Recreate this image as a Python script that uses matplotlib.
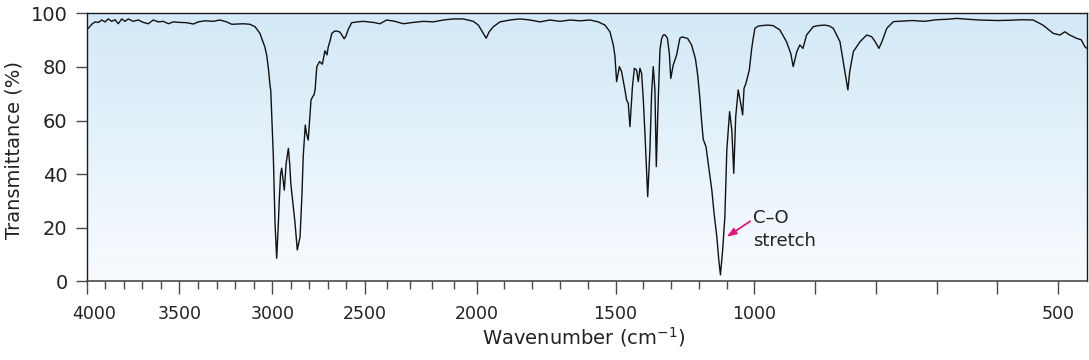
import numpy as np
import matplotlib
matplotlib.use("Agg")
import matplotlib.pyplot as plt
from matplotlib.ticker import FixedLocator, FixedFormatter, NullFormatter
from matplotlib.colors import to_rgb
import matplotlib.transforms as mtransforms

# ---------------- data ----------------
wavenumber = [
    4000, 3991, 3973, 3955, 3937, 3919, 3901, 3884, 3865, 3847, 3830, 3811, 3794, 3776,
    3749, 3722, 3695, 3668, 3641, 3614, 3587, 3560, 3533, 3497, 3461, 3425, 3398, 3362,
    3318, 3282, 3246, 3218, 3192, 3156, 3120, 3093, 3066, 3057, 3040, 3030, 3020, 3012,
    3008, 2994, 2985, 2976, 2968, 2962, 2955, 2949, 2942, 2935, 2925, 2913, 2905, 2900,
    2890, 2877, 2865, 2850, 2840, 2833, 2822, 2815, 2806, 2797, 2791, 2782, 2775, 2769,
    2760, 2745, 2730, 2716, 2705, 2698, 2689, 2679, 2665, 2653, 2635, 2626, 2612, 2603,
    2590, 2572, 2540, 2509, 2463, 2433, 2403, 2366, 2328, 2284, 2239, 2194, 2149, 2105,
    2060, 2015, 1994, 1976, 1966, 1955, 1940, 1916, 1880, 1844, 1808, 1772, 1736, 1700,
    1664, 1628, 1592, 1562, 1538, 1520, 1508, 1502, 1496, 1490, 1486, 1478, 1466, 1460,
    1454, 1448, 1439, 1432, 1424, 1418, 1412, 1406, 1400, 1394, 1384, 1376, 1370, 1364,
    1358, 1353, 1348, 1340, 1334, 1328, 1322, 1313, 1306, 1301, 1292, 1280, 1268, 1260,
    1250, 1240, 1226, 1212, 1204, 1196, 1190, 1184, 1174, 1166, 1153, 1145, 1135, 1128,
    1122, 1114, 1106, 1099, 1089, 1081, 1074, 1067, 1058, 1049, 1042, 1037, 1030, 1018,
    1010, 1005, 999, 994, 988, 978, 969, 958, 947, 940, 936, 930, 925, 920, 914, 903,
    895, 884, 877, 870, 859, 851, 846, 843, 837, 826, 815, 807, 801, 795, 790, 782, 771,
    740, 720, 700, 680, 667, 650, 629, 600, 580, 560, 541, 525, 508, 497, 489, 481, 470,
    462, 456, 453,
]
transmittance = [
    94.5, 94.4, 95.9, 96.8, 96.6, 97.5, 96.8, 97.9, 97.0, 97.6, 96.1, 97.9, 97.0, 97.9,
    97.0, 97.5, 96.6, 96.1, 97.5, 96.8, 97.0, 96.1, 96.8, 96.6, 96.5, 96.0, 96.8, 97.2,
    97.0, 97.5, 96.8, 95.9, 96.0, 96.1, 95.9, 95.0, 92.5, 90.7, 87.5, 84.4, 79.0, 73.0,
    71.3, 46.5, 21.7, 8.6, 20.0, 30.3, 40.0, 42.2, 38.0, 34.0, 44.0, 49.6, 43.0, 36.6,
    30.0, 21.6, 11.7, 16.6, 32.0, 46.5, 58.3, 55.0, 52.7, 62.0, 67.6, 68.9, 69.5, 71.4,
    80.0, 82.0, 81.0, 86.0, 84.5, 87.5, 89.5, 92.5, 93.3, 93.4, 93.0, 92.0, 90.5, 91.5,
    94.0, 96.5, 96.8, 97.0, 96.6, 96.1, 97.5, 97.0, 96.1, 96.6, 97.0, 96.8, 97.5, 97.9,
    97.9, 97.0, 95.6, 92.5, 90.7, 93.1, 95.0, 96.8, 97.5, 97.9, 97.5, 96.8, 97.5, 97.0,
    97.5, 97.2, 97.5, 96.8, 95.6, 93.1, 88.2, 84.0, 74.5, 78.0, 80.1, 78.2, 71.4, 67.6,
    66.4, 57.7, 72.6, 79.5, 78.8, 74.5, 79.5, 77.6, 68.0, 55.3, 31.6, 49.0, 70.0, 80.1,
    71.4, 42.8, 61.4, 86.3, 90.5, 91.9, 92.0, 90.7, 85.0, 75.7, 80.7, 84.4, 90.7, 91.2,
    90.9, 90.6, 88.2, 83.0, 77.0, 68.3, 60.0, 53.0, 50.2, 44.0, 34.0, 25.4, 16.6, 8.0,
    2.4, 11.7, 24.1, 49.0, 63.3, 56.5, 40.3, 61.4, 71.4, 66.4, 62.1, 72.0, 73.9, 78.8,
    86.3, 90.0, 94.4, 95.2, 95.4, 95.6, 95.4, 93.8, 89.4, 85.0, 80.1, 85.7, 88.2, 86.9,
    91.9, 95.0, 95.4, 95.6, 95.3, 94.4, 89.4, 78.2, 71.4, 78.2, 85.7, 89.4, 91.9, 91.3,
    89.4, 86.9, 89.4, 94.4, 96.9, 97.3, 97.0, 97.6, 97.8, 98.1, 97.8, 97.5, 97.3, 97.4,
    97.6, 97.5, 95.6, 92.5, 91.9, 93.1, 91.9, 90.7, 90.1, 87.5, 87.0,
]

major_ticks = [4000, 3500, 3000, 2500, 2000, 1500, 1000, 900, 800, 700, 600, 500]
major_labels = ["4000", "3500", "3000", "2500", "2000", "1500", "1000", "", "", "", "", "500"]
minor_ticks = [3900, 3800, 3700, 3600, 3400, 3300, 3200, 3100, 2900, 2800, 2700, 2600,
               2400, 2300, 2200, 2100, 1900, 1800, 1700, 1600, 1400, 1300, 1200, 1100]
y_ticks = [0, 20, 40, 60, 80, 100]
y_labels = ["0", "20", "40", "60", "80", "100"]

annotation_text = "C\u2013O\nstretch"
x_label = "Wavenumber (cm$^{-1}$)"
y_label = "Transmittance (%)"

# ---------------- piecewise-linear wavenumber axis ----------------
scale_wn = np.array([0, 453, 1000, 2000, 2500, 4000, 5000], dtype=float)
scale_pos = np.array([-1362.0, -1086.7, -754.3, -476.7, -365.0, -86.7, 98.8])


def fwd(x):
    return np.interp(np.asarray(x, dtype=float), scale_wn, scale_pos)


def inv(p):
    return np.interp(np.asarray(p, dtype=float), scale_pos, scale_wn)


plt.rcParams["font.family"] = ["DejaVu Sans"]

fig = plt.figure(figsize=(10.89, 3.60), dpi=100)
pos = [86.7 / 1089, (360 - 281.3) / 360, 1000 / 1089, 268 / 360]

# gradient background
bg = fig.add_axes(pos, zorder=0)
top_c = np.array(to_rgb("#d3e9f7"))
bot_c = np.array(to_rgb("#f8fbfe"))
t = np.linspace(0, 1, 256)[:, None]
grad = (top_c[None, :] * (1 - t) + bot_c[None, :] * t)[:, None, :]
bg.imshow(grad, aspect="auto", extent=[0, 1, 0, 1], origin="upper", interpolation="bilinear")
bg.set_axis_off()

ax = fig.add_axes(pos, zorder=1)
ax.patch.set_alpha(0)
ax.set_xscale("function", functions=(fwd, inv))
ax.plot(wavenumber, transmittance, color="#111111", lw=1.0, solid_joinstyle="round")
ax.set_xlim(4000, 453)
ax.set_ylim(0, 100)

ax.xaxis.set_major_locator(FixedLocator(major_ticks))
ax.xaxis.set_major_formatter(FixedFormatter(major_labels))
ax.xaxis.set_minor_locator(FixedLocator(minor_ticks))
ax.xaxis.set_minor_formatter(NullFormatter())
ax.yaxis.set_major_locator(FixedLocator(y_ticks))
ax.yaxis.set_major_formatter(FixedFormatter(y_labels))

ax.tick_params(axis="x", which="major", direction="out", length=9.1, width=1.0,
               color="#4a4a4a", labelsize=12.5, labelcolor="#222222", pad=8.0)
ax.tick_params(axis="x", which="minor", direction="out", length=5.5, width=1.0,
               color="#4a4a4a")
ax.tick_params(axis="y", which="major", direction="out", length=8.2, width=1.0,
               color="#4a4a4a", labelsize=14, labelcolor="#222222", pad=5.5)

for side in ("top", "left", "right"):
    ax.spines[side].set_color("#1a1a1a")
    ax.spines[side].set_linewidth(1.0)
ax.spines["bottom"].set_color("#4a4a4a")
ax.spines["bottom"].set_linewidth(1.2)

ax.set_xlabel(x_label, fontsize=14, color="#222222")
ax.xaxis.set_label_coords(0.497, -0.163)
ax.set_ylabel(y_label, fontsize=14, color="#222222")
ax.yaxis.set_label_coords(-0.063, 0.49)

ax.annotate("", xy=(1099, 16.6), xytext=(1015, 22.4),
            arrowprops=dict(arrowstyle="-|>,head_length=0.55,head_width=0.2",
                            color="#e0197d", lw=1.3, shrinkA=0, shrinkB=0))
ax.text(1006, 19.3, annotation_text, ha="left", va="center", fontsize=13,
        color="#222222", linespacing=1.3)

fig.canvas.draw()
first = ax.xaxis.get_major_ticks()[0].label1
first.set_transform(first.get_transform() +
                    mtransforms.ScaledTranslation(7 / 100, 0, fig.dpi_scale_trans))

fig.savefig("out.png", dpi=100)
